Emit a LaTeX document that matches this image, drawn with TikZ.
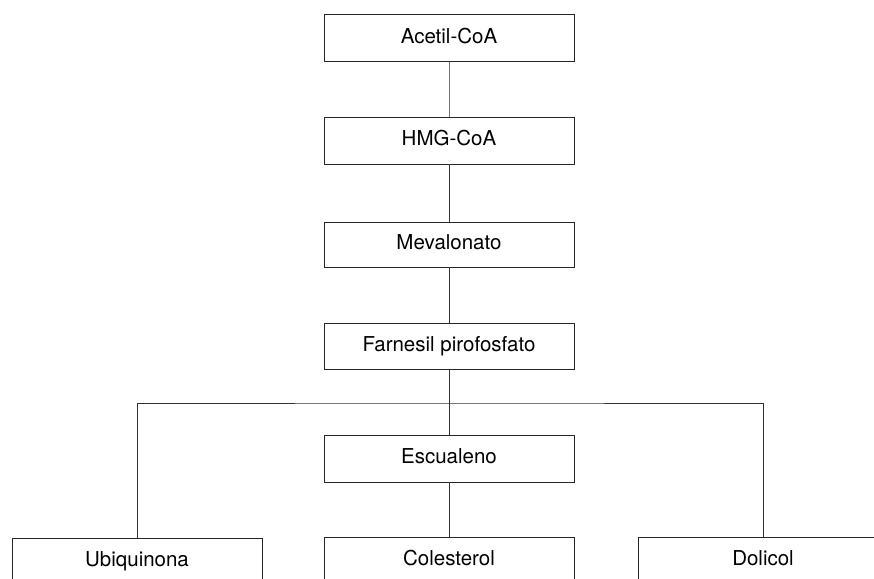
\documentclass[tikz,border=0pt]{standalone}
\usepackage{fontspec}
\setmainfont{TeX Gyre Heros}
\begin{document}
\begin{tikzpicture}[x=1pt,y=-1pt,
  box/.style={draw=black!85, line width=0.9pt, minimum width=250pt, minimum height=47pt,
    inner sep=0pt, font=\fontsize{20.5}{24}\selectfont, text height=14.5pt, text depth=4pt},
  link/.style={draw=black!80, line width=0.9pt}]
\useasboundingbox (0,0) rectangle (874,578);
\clip (0,0) rectangle (874,578);
\fill[white] (0,0) rectangle (874,578);
\node[box] (A) at (449,38) {Acetil-CoA};
\node[box] (H) at (449,140.5) {HMG-CoA};
\node[box, minimum height=45pt] (M) at (449,244.5) {Mevalonato};
\node[box, minimum height=46pt] (F) at (449,346) {Farnesil pirofosfato};
\node[box] (E) at (449,458.5) {Escualeno};
\node[box] (C) at (449,560.5) {Colesterol};
\node[box] (U) at (137,561.5) {Ubiquinona};
\node[box] (D) at (763,560.5) {Dolicol};
\coordinate (br) at (449,403);
\draw[link, draw=black!55] (A) -- (H);
\draw[link] (H) -- (M);
\draw[link] (M) -- (F);
\draw[link] (F) -- (br);
\draw[link] (U.north) |- (br) -| (D.north);
\draw[link] (br) -- (E.north);
\draw[link] (E) -- (C);
\end{tikzpicture}
\end{document}
